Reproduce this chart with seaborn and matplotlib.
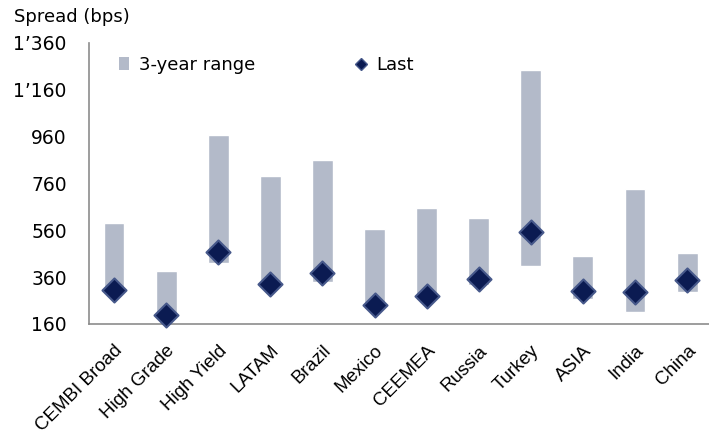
import matplotlib
matplotlib.use("Agg")
import matplotlib.pyplot as plt
from matplotlib.patches import Patch
from matplotlib.lines import Line2D
from matplotlib.ticker import FuncFormatter
import pandas as pd
import seaborn as sns

categories = ["CEMBI Broad", "High Grade", "High Yield", "LATAM", "Brazil", "Mexico",
              "CEEMEA", "Russia", "Turkey", "ASIA", "India", "China"]
range_low = [290, 185, 421, 312, 338, 225, 262, 326, 407, 265, 210, 298]
range_high = [592, 387, 966, 792, 859, 564, 654, 612, 1243, 450, 738, 461]
last = [305, 198, 468, 330, 379, 241, 279, 350, 551, 301, 296, 348]
y_ticks = [160, 360, 560, 760, 960, 1160, 1360]

df = pd.DataFrame({"region": categories, "low": range_low, "high": range_high, "last": last})
df["span"] = df["high"] - df["low"]

bar_color = "#b3bac9"
navy = "#0b1b52"

sns.set_theme(style="white")
plt.rcParams["font.family"] = ["DejaVu Sans"]
plt.rcParams["text.color"] = "black"

fig = plt.figure(figsize=(7.09, 4.34), dpi=100)
ax = fig.add_axes([0.1255, 0.2535, 0.8745, 0.648])

# floating bars: 3-year range
sns.barplot(data=df, x="region", y="span", bottom=df["low"].to_numpy(), color=bar_color,
            saturation=1, width=0.4, ax=ax, zorder=2)
# last value diamonds
sns.scatterplot(data=df, x="region", y="last", marker="D", s=150, color=navy,
                edgecolor="#46588a", linewidth=1.5, ax=ax, zorder=3, clip_on=False)

ax.set_ylim(160, 1360)
ax.set_xlim(-0.48, 11.42)
ax.set_yticks(y_ticks)
ax.yaxis.set_major_formatter(FuncFormatter(lambda v, p: f"{int(v):,}".replace(",", "\u2019")))
ax.set_xlabel("")
ax.set_ylabel("")

for side in ["top", "right"]:
    ax.spines[side].set_visible(False)
for side in ["left", "bottom"]:
    ax.spines[side].set_color("#8c8c8c")
    ax.spines[side].set_linewidth(1.2)

ax.tick_params(axis="y", length=0, pad=16, labelsize=13.5, labelcolor="black")
ax.tick_params(axis="x", length=0, pad=13, labelcolor="black")
ax.set_xticks(range(len(categories)))
ax.set_xticklabels(categories, rotation=45, ha="right", rotation_mode="anchor",
                   fontsize=13.5, family="Liberation Sans")

fig.text(0.02, 0.949, "Spread (bps)", fontsize=13, ha="left", va="baseline", color="black")

handles = [Patch(facecolor=bar_color, edgecolor="none"),
           Line2D([], [], marker="D", linestyle="none", markersize=6.5,
                  markerfacecolor=navy, markeredgecolor="#46588a", markeredgewidth=1)]
leg = ax.legend(handles, ["3-year range", "Last"], ncol=2, frameon=False, fontsize=13,
                loc="center left", bbox_to_anchor=(0.168, 0.85), bbox_transform=fig.transFigure,
                handlelength=0.55, handleheight=0.7, handletextpad=0.55, columnspacing=5.6,
                borderpad=0, borderaxespad=0)
for t in leg.get_texts():
    t.set_color("black")

fig.savefig("out.png", dpi=100)
